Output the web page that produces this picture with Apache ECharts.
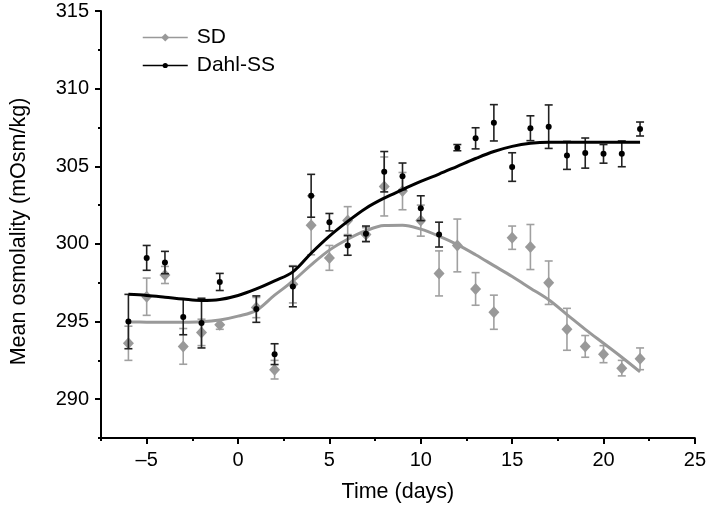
<!DOCTYPE html>
<html>
<head>
<meta charset="utf-8">
<script src="https://cdn.jsdelivr.net/npm/echarts@6/dist/echarts.min.js"></script>
<style>
html,body{margin:0;padding:0;background:#fff;}
#chart{width:709px;height:510px;}
</style>
</head>
<body>
<div id="chart"></div>
<script>
// ---- data ----
const days = [-6,-5,-4,-3,-2,-1,1,2,3,4,5,6,7,8,9,10,11,12,13,14,15,16,17,18,19,20,21,22];
const sdMean = [293.6,296.6,298.0,293.4,294.3,294.8,295.9,291.9,297.4,301.2,299.1,301.5,300.6,303.7,303.4,301.5,298.1,299.9,297.1,295.6,300.4,299.8,297.5,294.5,293.4,292.9,292.0,292.6];
const sdErr  = [1.1,1.2,0.55,1.15,0.85,0.3,0.65,0.6,1.2,1.9,0.8,0.9,0.45,1.9,1.2,1.0,1.45,1.7,1.05,1.1,0.75,1.45,1.4,1.35,0.7,0.55,0.5,0.7];
const dahlMean = [295.0,299.1,298.8,295.3,294.9,297.55,295.8,292.9,297.25,303.1,301.4,299.9,300.65,304.65,304.35,302.3,300.6,306.2,306.8,307.8,304.95,307.45,307.55,305.7,305.85,305.8,305.8,307.4];
const dahlErr  = [1.75,0.8,0.72,1.15,1.6,0.55,0.85,0.67,1.3,1.38,0.56,0.63,0.5,1.3,0.86,0.8,0.8,0.2,0.68,1.17,0.92,0.8,1.4,0.9,0.97,0.6,0.83,0.45];
const fitDays = [-6,-5,-4,-3,-2,-1,0,1,2,3,4,5,6,7,8,9,10,11,12,13,14,15,16,17,18,19,20,21,22];
const sdFit   = [294.97,294.96,294.95,294.95,294.98,295.1,295.35,295.72,296.7,297.6,298.65,299.6,300.3,300.85,301.18,301.2,300.95,300.5,299.95,299.3,298.6,297.9,297.15,296.4,295.45,294.5,293.6,292.7,291.76];
const dahlFit = [296.75,296.68,296.57,296.45,296.36,296.42,296.68,297.1,297.62,298.2,299.4,300.5,301.45,302.3,302.95,303.5,304.03,304.5,305.0,305.5,305.95,306.28,306.48,306.55,306.55,306.55,306.55,306.55,306.55];
const xMajor = [-5,0,5,10,15,20,25];
const xMinor = [-7.5,-2.5,2.5,7.5,12.5,17.5,22.5];
const yMajor = [290,295,300,305,310,315];
const yMinor = [287.5,292.5,297.5,302.5,307.5,312.5];
const seriesNames = ['SD','Dahl-SS'];

// ---- build ----
const FONT = 'Liberation Sans, Arial, sans-serif';
const GRAY = '#999999';
const BLACK = '#000000';
function pts(xs, ys){ return xs.map((x,i)=>[x, ys[i]]); }
function bars(xs, m, e){ return xs.map((x,i)=>[x, m[i]-e[i], m[i]+e[i]]); }
function errRender(color){
  return function(params, api){
    const x = api.value(0);
    const lo = api.coord([x, api.value(1)]);
    const hi = api.coord([x, api.value(2)]);
    const w = 4;
    const st = {stroke: color, lineWidth: 1.6};
    return {type:'group', children:[
      {type:'line', shape:{x1:lo[0],y1:lo[1],x2:hi[0],y2:hi[1]}, style:st},
      {type:'line', shape:{x1:lo[0]-w,y1:lo[1],x2:lo[0]+w,y2:lo[1]}, style:st},
      {type:'line', shape:{x1:hi[0]-w,y1:hi[1],x2:hi[0]+w,y2:hi[1]}, style:st}
    ]};
  };
}
function legendFor(name, top, itemH){
  return {
    orient:'vertical', left:137, top:top, itemWidth:45, itemHeight:itemH, itemGap:0,
    data:[name], selectedMode:false,
    textStyle:{fontSize:21, color:'#000', fontFamily:FONT, padding:[0,0,0,4]},
    lineStyle:{width:1.5}
  };
}
const axisLineStyle = {color:'#000', width:2};
const chart = echarts.init(document.getElementById('chart'), null, {renderer:'canvas'});
chart.setOption({
  animation:false,
  backgroundColor:'#fff',
  textStyle:{fontFamily:FONT},
  grid:{left:97, right:13, top:11, bottom:72, containLabel:false},
  legend:[legendFor(seriesNames[0], 22, 10), legendFor(seriesNames[1], 50, 6.5)],
  xAxis:[
    {type:'value', min:-7.5, max:25,
     name:'Time (days)', nameLocation:'middle', nameGap:43,
     nameTextStyle:{fontSize:21.5, color:'#000', fontFamily:FONT},
     axisLine:{show:true, onZero:false, lineStyle:axisLineStyle},
     axisTick:{show:true, customValues:xMajor, length:6, lineStyle:{width:2, color:'#000'}},
     axisLabel:{show:true, customValues:xMajor, fontSize:20, color:'#000', fontFamily:FONT, margin:12,
       formatter:v=>String(v).replace('-','\u2013')},
     splitLine:{show:false}},
    {type:'value', min:-7.5, max:25, position:'bottom',
     axisLine:{show:false, onZero:false},
     axisTick:{show:true, customValues:xMinor, length:3, lineStyle:{width:2, color:'#000'}},
     axisLabel:{show:false}, splitLine:{show:false}}
  ],
  yAxis:[
    {type:'value', min:287.5, max:315,
     name:'Mean osmolality (mOsm/kg)', nameLocation:'middle', nameGap:71, nameRotate:90,
     nameTextStyle:{fontSize:21.5, color:'#000', fontFamily:FONT, padding:[0,0,0,-14]},
     axisLine:{show:true, onZero:false, lineStyle:axisLineStyle},
     axisTick:{show:true, customValues:yMajor, length:6, lineStyle:{width:2, color:'#000'}},
     axisLabel:{show:true, customValues:yMajor, fontSize:20, color:'#000', fontFamily:FONT, margin:12},
     splitLine:{show:false}},
    {type:'value', min:287.5, max:315, position:'left',
     axisLine:{show:false, onZero:false},
     axisTick:{show:true, customValues:yMinor, length:3, lineStyle:{width:2, color:'#000'}},
     axisLabel:{show:false}, splitLine:{show:false}}
  ],
  series:[
    {type:'custom', name:'sdErr', renderItem:errRender('#a0a0a0'), data:bars(days, sdMean, sdErr), z:2, silent:true},
    {type:'scatter', name:'sdPts', data:pts(days, sdMean), symbol:'diamond', symbolSize:[11,12],
     itemStyle:{color:'#999999', opacity:1}, z:3, silent:true},
    {type:'line', name:'SD', data:pts(fitDays, sdFit), smooth:0.35, showSymbol:false,
     symbol:'diamond', symbolSize:9, itemStyle:{color:GRAY},
     lineStyle:{color:GRAY, width:3}, z:4},
    {type:'custom', name:'dahlErr', renderItem:errRender('#222222'), data:bars(days, dahlMean, dahlErr), z:5, silent:true},
    {type:'scatter', name:'dahlPts', data:pts(days, dahlMean), symbol:'circle', symbolSize:6,
     itemStyle:{color:BLACK, opacity:1}, z:6, silent:true},
    {type:'line', name:'Dahl-SS', data:pts(fitDays, dahlFit), smooth:0.35, showSymbol:false,
     symbol:'circle', symbolSize:5, itemStyle:{color:BLACK},
     lineStyle:{color:BLACK, width:3}, z:7}
  ]
});
</script>
</body>
</html>
